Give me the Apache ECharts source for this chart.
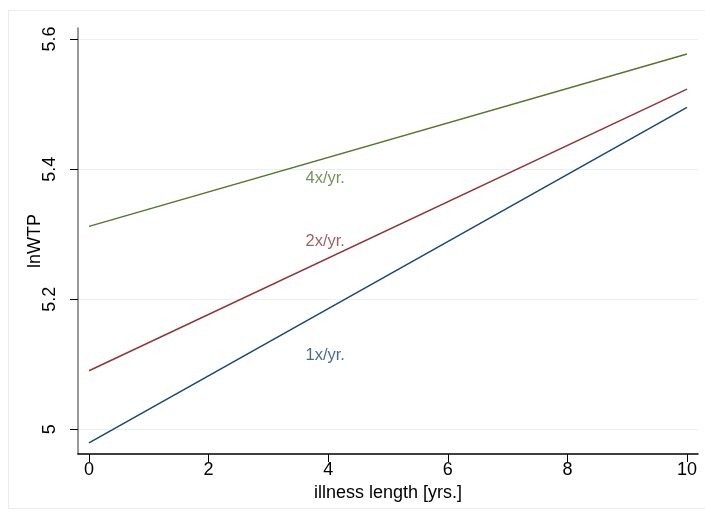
<!DOCTYPE html>
<html><head><meta charset="utf-8">
<script src="https://cdn.jsdelivr.net/npm/echarts@6/dist/echarts.min.js"></script>
<style>html,body{margin:0;padding:0;background:#fff}#c{width:705px;height:519px}</style>
</head><body><div id="c"></div>
<script>
var xValues = [0, 10];
var oncePerYear = [4.979, 5.495];
var twicePerYear = [5.090, 5.523];
var fourPerYear = [5.312, 5.577];
var seriesNames = ['1x/yr.', '2x/yr.', '4x/yr.'];
var labelX = [3.95, 3.95, 3.95];
var labelY = [5.113, 5.289, 5.386];
var xTicks = [0, 2, 4, 6, 8, 10];
var yTicks = [5, 5.2, 5.4, 5.6];
var colors = ['#1a476f', '#90353b', '#55752f'];

var chart = echarts.init(document.getElementById('c'), null, {renderer: 'canvas'});
var font = 'Liberation Sans, Arial, sans-serif';
function pairs(ys) { return xValues.map(function (x, i) { return [x, ys[i]]; }); }
var lines = [oncePerYear, twicePerYear, fourPerYear];
var series = lines.map(function (ys, i) {
  return {type: 'line', name: seriesNames[i], data: pairs(ys), symbol: 'none',
    lineStyle: {color: colors[i], width: 1.5}, silent: true, z: 3};
});
series.push({
  type: 'scatter', symbolSize: 0, silent: true, z: 4,
  data: labelX.map(function (x, i) {
    return {value: [x, labelY[i]], label: {show: true, position: 'inside', formatter: seriesNames[i],
      color: colors[i], fontSize: 16.5, fontFamily: font}};
  })
});
chart.setOption({
  animation: false,
  backgroundColor: '#fff',
  graphic: [{type: 'rect', shape: {x: 8.5, y: 10.5, width: 700, height: 498}, style: {fill: 'none', stroke: '#ececec', lineWidth: 1}, z: -1}],
  grid: {left: 78, right: 7, top: 28, bottom: 65},
  xAxis: {
    type: 'value', min: -0.184, max: 10.184,
    name: 'illness length [yrs.]', nameLocation: 'middle', nameGap: 30,
    nameTextStyle: {fontSize: 18, color: '#000', fontFamily: font},
    axisLine: {show: true, onZero: false, lineStyle: {color: '#000', width: 1.5}},
    axisTick: {show: true, length: 8, lineStyle: {color: '#000'}, customValues: xTicks},
    axisLabel: {fontSize: 18, color: '#000', fontFamily: font, margin: 7, customValues: xTicks, showMinLabel: true, showMaxLabel: true},
    splitLine: {show: false}
  },
  yAxis: {
    type: 'value', min: 4.962, max: 5.617,
    name: 'lnWTP', nameLocation: 'middle', nameGap: 34, nameRotate: 90, nameMoveOverlap: false,
    nameTextStyle: {fontSize: 18, color: '#000', fontFamily: font},
    axisLine: {show: true, onZero: false, lineStyle: {color: '#777', width: 1.5}},
    axisTick: {show: true, length: 8, lineStyle: {color: '#000'}, customValues: yTicks},
    axisLabel: {fontSize: 18, color: '#000', fontFamily: font, rotate: 90, margin: 19, customValues: yTicks, formatter: function (v) { return String(Math.round(v * 10) / 10); }},
    splitLine: {show: true, lineStyle: {color: '#e8f0f2', width: 1}, customValues: yTicks}
  },
  series: series
});
</script></body></html>
